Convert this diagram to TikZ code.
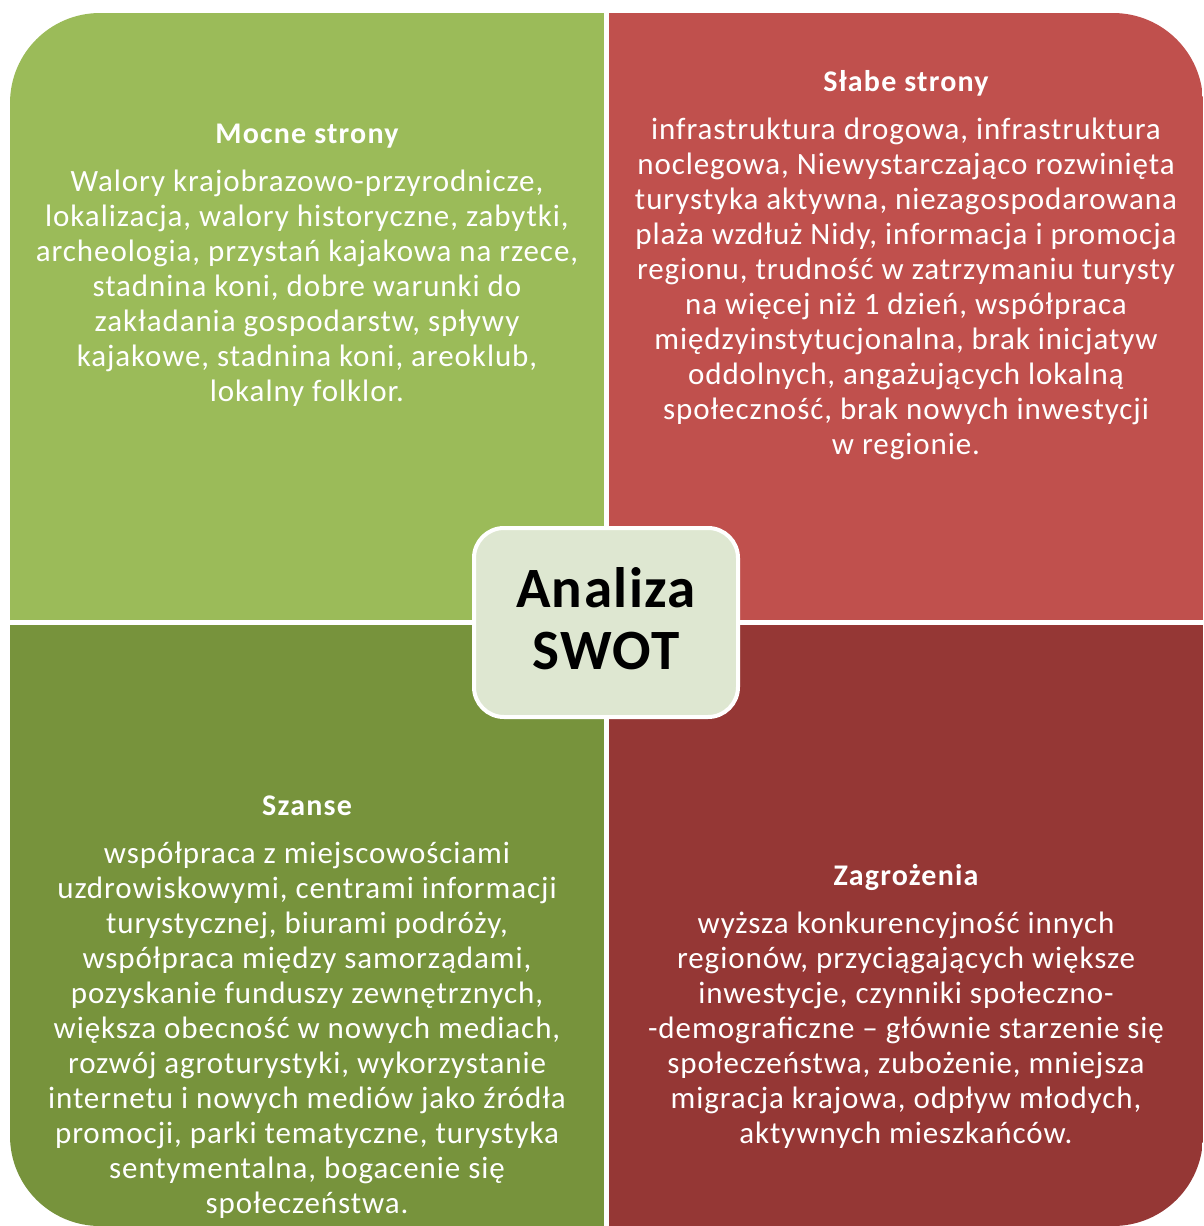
\documentclass[tikz,border=0pt]{standalone}
\usepackage{fontspec}
\setmainfont{Carlito}
\definecolor{strongcol}{HTML}{9BBB59}
\definecolor{weakcol}{HTML}{C0504D}
\definecolor{chancecol}{HTML}{77933C}
\definecolor{threatcol}{HTML}{953735}
\definecolor{centercol}{HTML}{DEE7D1}
\tikzset{
  quadtitle/.style={anchor=base, text=white, inner sep=0pt,
    font=\fontsize{30}{35}\selectfont\bfseries\addfontfeature{LetterSpace=4}},
  quadbody/.style={anchor=base, text=white, align=center, inner sep=0pt,
    font=\fontsize{31}{35}\selectfont\addfontfeature{LetterSpace=3}},
  swotbox/.style={draw=white, line width=4pt, fill=centercol,
    rounded corners=30pt, minimum width=264pt, minimum height=189pt,
    align=center, text depth=9pt,
    font=\fontsize{57}{62}\selectfont\bfseries\addfontfeature{LetterSpace=2.5}}
}
\begin{document}
\begin{tikzpicture}[x=1pt, y=-1pt]
    \useasboundingbox (0,0) rectangle (1203,1226);

    \begin{scope}
        \clip[rounded corners=90pt] (10,13) rectangle (1203,1226);
        \fill[strongcol] (10,13) rectangle (604,620);
        \fill[weakcol] (609,13) rectangle (1203,620);
        \fill[chancecol] (10,625) rectangle (604,1226);
        \fill[threatcol] (609,625) rectangle (1203,1226);
    \end{scope}

    \node[quadtitle] (stitle) at (307,143) {Mocne strony};
    \node[quadbody] (sbody) at (307,401) {Walory krajobrazowo-przyrodnicze,\\
        lokalizacja,  walory historyczne, zabytki,\\
        archeologia, przystań kajakowa na rzece,\\
        stadnina koni, dobre warunki do\\
        zakładania gospodarstw, spływy\\
        kajakowe, stadnina koni, areoklub,\\
        lokalny folklor.};

    \node[quadtitle] (wtitle) at (906,91) {Słabe strony};
    \node[quadbody] (wbody) at (906,454) {infrastruktura drogowa,  infrastruktura\\
        noclegowa, Niewystarczająco rozwinięta\\
        turystyka aktywna, niezagospodarowana\\
        plaża wzdłuż Nidy, informacja i promocja\\
        regionu, trudność w zatrzymaniu turysty\\
        na więcej niż 1 dzień, współpraca\\
        międzyinstytucjonalna, brak inicjatyw\\
        oddolnych, angażujących lokalną\\
        społeczność, brak nowych inwestycji\\
        w regionie.};

    \node[quadtitle] (otitle) at (307,815) {Szanse};
    \node[quadbody] (obody) at (307,1213) {współpraca z miejscowościami\\
        uzdrowiskowymi, centrami informacji\\
        turystycznej, biurami podróży,\\
        współpraca między samorządami,\\
        pozyskanie funduszy zewnętrznych,\\
        większa obecność w nowych mediach,\\
        rozwój agroturystyki, wykorzystanie\\
        internetu i nowych mediów jako źródła\\
        promocji, parki tematyczne, turystyka\\
        sentymentalna, bogacenie się\\
        społeczeństwa.};

    \node[quadtitle] (ttitle) at (906,885) {Zagrożenia};
    \node[quadbody] (tbody) at (906,1143) {wyższa konkurencyjność innych\\
        regionów, przyciągających większe\\
        inwestycje, czynniki społeczno-\\
        -demograficzne – głównie starzenie się\\
        społeczeństwa, zubożenie, mniejsza\\
        migracja krajowa, odpływ młodych,\\
        aktywnych mieszkańców.};

    \node[swotbox] (swot) at (606,622.5) {Analiza\\SWOT};
\end{tikzpicture}
\end{document}
